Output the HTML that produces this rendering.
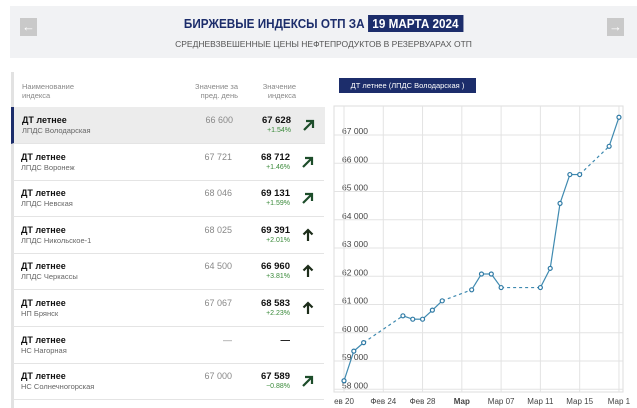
<!DOCTYPE html>
<html><head><meta charset="utf-8"><style>
body{margin:0;width:637px;height:408px;overflow:hidden;background:#fff;font-family:"Liberation Sans","Noto Sans CJK SC",sans-serif;position:relative}
.abs{position:absolute}
#hdr{left:10px;top:6px;width:627px;height:52px;background:#f1f2f4}
.arr{width:17px;height:18px;background:#c9c9c9;color:#fff;font-size:13px;text-align:center;line-height:18px;top:12px}
#title{top:10px;left:0;width:627px;text-align:center;font-size:13px;font-weight:bold;color:#1c2d6b;transform:scaleX(.9)}
#date{background:#1c2d6b;color:#fff;padding:1px 5px}
#sub{top:33px;left:0;width:627px;text-align:center;font-size:8.5px;color:#555}
.th{font-size:7.5px;color:#888;line-height:9px}
.row{left:13px;width:311px;height:36px;border-bottom:1px solid #e4e4e4}
.row.sel{background:#ececec;border-left:3px solid #1c2d6b;left:11px}
.nm{left:8px;top:8px;font-size:9px;font-weight:bold;color:#111}
.loc{left:8px;top:19px;font-size:7.5px;color:#666}
.prev{right:92px;top:8px;font-size:9px;color:#888}
.val{right:34px;top:8px;font-size:9.5px;font-weight:bold;color:#111;text-align:right}
.pct{right:34px;top:20px;font-size:7px;color:#3a8a3a}
.ar{right:9px;top:11px}
</style></head><body>
<div class="abs" id="hdr">
 <div class="abs arr" style="left:10px">←</div>
 <div class="abs arr" style="left:597px">→</div>
 <div class="abs" id="title">БИРЖЕВЫЕ ИНДЕКСЫ ОТП ЗА <span id="date">19 МАРТА 2024</span></div>
 <div class="abs" id="sub">СРЕДНЕВЗВЕШЕННЫЕ ЦЕНЫ НЕФТЕПРОДУКТОВ В РЕЗЕРВУАРАХ ОТП</div>
</div>
<div class="abs" style="left:11px;top:72px;width:3px;height:336px;background:#e2e2e2"></div>
<div class="abs th" style="left:22px;top:82px">Наименование<br>индекса</div>
<div class="abs th" style="left:180px;top:82px;width:58px;text-align:right">Значение за<br>пред. день</div>
<div class="abs th" style="left:250px;top:82px;width:46px;text-align:right">Значение<br>индекса</div>
<div id="rows"></div>
<div class="abs" style="left:339px;top:78px;width:137px;height:15px;background:#1c2d6b;color:#fff;font-size:7.5px;line-height:15px;text-align:center">ДТ летнее (ЛПДС Володарская )</div>
<svg class="abs" style="left:0;top:0" width="637" height="408" id="chart"></svg>
<script>
const rowNames=["ЛПДС Володарская","ЛПДС Воронеж","ЛПДС Невская","ЛПДС Никольское-1","ЛПДС Черкассы","НП Брянск","НС Нагорная","НС Солнечногорская"];
const rowPrev=["66 600","67 721","68 046","68 025","64 500","67 067","—","67 000"];
const rowVal=["67 628","68 712","69 131","69 391","66 960","68 583","—","67 589"];
const rowPct=["+1.54%","+1.46%","+1.59%","+2.01%","+3.81%","+2.23%","","−0.88%"];
const rowArr=["d","d","d","u","u","u","","d"];
const diagSvg='<svg width="14" height="14" viewBox="0 0 14 14"><path d="M2 12 L11 3 M4 3 H11 V10" stroke="#1d4d2a" stroke-width="2.2" fill="none"/></svg>';
const upSvg='<svg width="14" height="14" viewBox="0 0 14 14"><path d="M7 13 V2 M2.5 6.5 L7 2 L11.5 6.5" stroke="#1d2d1a" stroke-width="2.2" fill="none"/></svg>';
const R=document.getElementById('rows');
rowNames.forEach((n,i)=>{
 const d=document.createElement('div');
 d.className='abs row'+(i==0?' sel':'');
 d.style.top=(107+i*36.6)+'px';
 
 
 const a=rowArr[i]=='d'?diagSvg:(rowArr[i]=='u'?upSvg:'');
 d.innerHTML='<div class="abs nm">ДТ летнее</div><div class="abs loc">'+n+'</div><div class="abs prev">'+rowPrev[i]+'</div><div class="abs val">'+rowVal[i]+'</div><div class="abs pct">'+rowPct[i]+'</div><div class="abs ar">'+a+'</div>';
 R.appendChild(d);
});
const days=[0,1,2,6,7,8,9,10,13,14,15,16,20,21,22,23,24,27,28];
const prices=[58300,59350,59650,60600,60480,60480,60800,61130,61520,62080,62080,61600,61600,62280,64580,65600,65600,66600,67628];
const yTicks=[58000,59000,60000,61000,62000,63000,64000,65000,66000,67000];
const xTickDays=[0,4,8,12,16,20,24,28];
const xTickLabels=["ев 20","Фев 24","Фев 28","Мар","Мар 07","Мар 11","Мар 15","Мар 1"];
const X=d=>344+d*9.82, Y=v=>135+(67000-v)*0.02825;
const S=document.getElementById('chart');let h='';
h+='<rect x="334" y="106" width="289" height="286" fill="none" stroke="#ddd"/>';
yTicks.forEach(v=>{h+='<line x1="334" x2="623" y1="'+Y(v)+'" y2="'+Y(v)+'" stroke="#e3e3e3"/><text x="342" y="'+(Y(v)-1)+'" font-size="8.5" fill="#444">'+(v/1000)+' 000</text>';});
xTickDays.forEach((d,i)=>{h+='<line y1="106" y2="392" x1="'+X(d)+'" x2="'+X(d)+'" stroke="#e3e3e3"/><text x="'+X(d)+'" y="404" text-anchor="middle" font-size="8" fill="#444" '+(xTickLabels[i]=="Мар"?'font-weight="bold"':'')+'>'+xTickLabels[i]+'</text>';});
for(let i=1;i<days.length;i++){const dash=days[i]-days[i-1]>1;h+='<line x1="'+X(days[i-1])+'" y1="'+Y(prices[i-1])+'" x2="'+X(days[i])+'" y2="'+Y(prices[i])+'" stroke="#3f8ab0" stroke-width="1.2" '+(dash?'stroke-dasharray="3,3"':'')+'/>';}
days.forEach((d,i)=>{h+='<circle cx="'+X(d)+'" cy="'+Y(prices[i])+'" r="2" fill="#fff" stroke="#2f7aa5" stroke-width="1.2"/>';});
S.innerHTML=h;
</script>
</body></html>
